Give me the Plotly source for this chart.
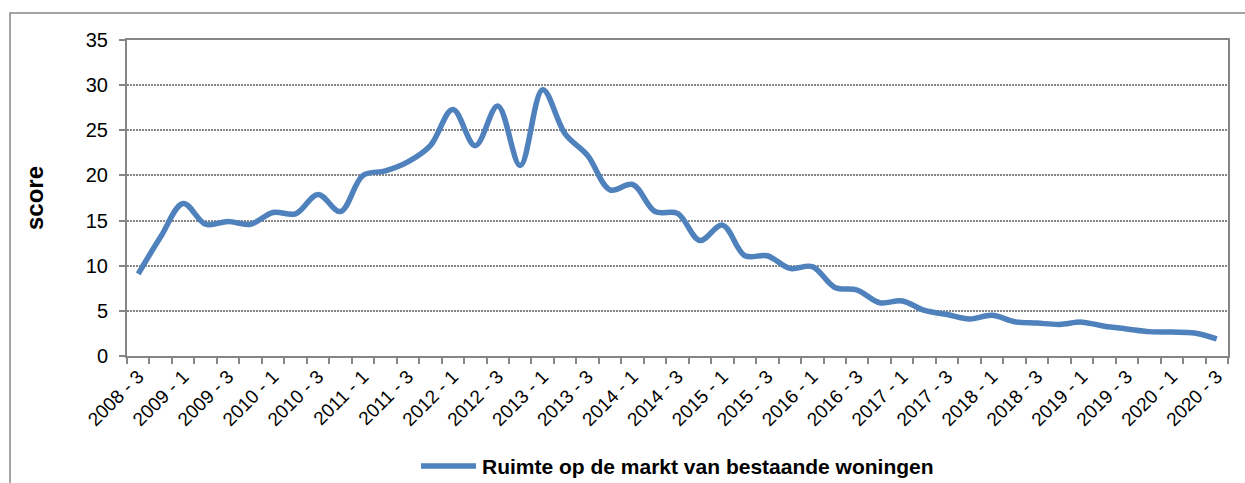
import plotly.graph_objects as go

quarters = [
    "2008 - 3", "2008 - 4",
    "2009 - 1", "2009 - 2", "2009 - 3", "2009 - 4",
    "2010 - 1", "2010 - 2", "2010 - 3", "2010 - 4",
    "2011 - 1", "2011 - 2", "2011 - 3", "2011 - 4",
    "2012 - 1", "2012 - 2", "2012 - 3", "2012 - 4",
    "2013 - 1", "2013 - 2", "2013 - 3", "2013 - 4",
    "2014 - 1", "2014 - 2", "2014 - 3", "2014 - 4",
    "2015 - 1", "2015 - 2", "2015 - 3", "2015 - 4",
    "2016 - 1", "2016 - 2", "2016 - 3", "2016 - 4",
    "2017 - 1", "2017 - 2", "2017 - 3", "2017 - 4",
    "2018 - 1", "2018 - 2", "2018 - 3", "2018 - 4",
    "2019 - 1", "2019 - 2", "2019 - 3", "2019 - 4",
    "2020 - 1", "2020 - 2", "2020 - 3",
]

scores = [
    9.1, 13.2,
    16.9, 14.6, 14.9, 14.6,
    15.9, 15.75, 17.9, 16.0,
    20.0, 20.5, 21.5, 23.3,
    27.3, 23.3, 27.7, 21.1,
    29.5, 24.6, 22.2, 18.4,
    19.0, 16.0, 15.8, 12.8,
    14.5, 11.1, 11.1, 9.7,
    9.9, 7.6, 7.3, 5.9,
    6.1, 5.05, 4.6, 4.1,
    4.5, 3.8, 3.65, 3.5,
    3.75, 3.3, 3.0, 2.7,
    2.65, 2.55, 1.9,
]

series_name = "Ruimte op de markt van bestaande woningen"
y_ticks = [0, 5, 10, 15, 20, 25, 30, 35]

idx = list(range(len(quarters)))
label_idx = idx[::2]
label_text = [quarters[i] for i in label_idx]

W, H = 1245, 483
L, R, T, B = 127, 17, 40, 127
pw, ph = W - L - R, H - T - B


def px(x):
    return (x - L) / pw


def py(y):
    return (T + ph - y) / ph


font = "Liberation Sans, Arial, sans-serif"
grey = "#868686"
blue = "#4F81BD"

fig = go.Figure()
fig.add_trace(go.Scatter(
    x=idx, y=scores, mode="lines", name=series_name, showlegend=False,
    line=dict(color=blue, width=5.5, shape="spline", smoothing=1),
))

leg_y = 466
fig.update_layout(
    width=W, height=H,
    margin=dict(l=L, r=R, t=T, b=B, autoexpand=False),
    paper_bgcolor="white", plot_bgcolor="white",
    font=dict(family=font, color="black"),
    showlegend=False,
    shapes=[
        dict(type="rect", xref="paper", yref="paper",
             x0=px(10), x1=px(W + 40), y0=py(H + 40), y1=py(13),
             line=dict(color=grey, width=1.5), layer="below"),
        dict(type="line", xref="paper", yref="paper",
             x0=px(421), x1=px(476), y0=py(leg_y), y1=py(leg_y),
             line=dict(color=blue, width=5.5)),
    ],
    annotations=[
        dict(text=series_name, xref="paper", yref="paper",
             x=px(480), y=py(leg_y), xanchor="left", yanchor="middle",
             showarrow=False,
             font=dict(family=font, size=21, color="black", weight="bold")),
    ],
)

fig.update_xaxes(
    range=[-0.5, len(quarters) - 0.5], automargin=False,
    tickmode="array", tickvals=label_idx, ticktext=label_text,
    tickangle=-45, ticks="",
    tickfont=dict(family=font, size=19, color="black"),
    showgrid=False, zeroline=False,
    showline=True, linecolor=grey, linewidth=2, mirror=True,
    minor=dict(tickmode="linear", tick0=-0.5, dtick=1, ticks="outside",
               ticklen=6, tickcolor=grey, tickwidth=1.5, showgrid=False),
)

fig.update_yaxes(
    range=[0, 35], tickmode="array", tickvals=y_ticks, automargin=False,
    ticks="outside", ticklen=6, tickcolor=grey, tickwidth=1.5,
    tickfont=dict(family=font, size=20, color="black"),
    showgrid=True, gridcolor=grey, griddash="1.5px,1.5px", gridwidth=1.5,
    zeroline=False,
    showline=True, linecolor=grey, linewidth=2, mirror=True,
    ticklabelstandoff=7,
    title=dict(text="score", font=dict(family=font, size=24, color="black", weight="bold"),
               standoff=35),
)

fig.write_html("out.html",
               config={"displayModeBar": False},
               post_script="document.body.style.margin='0';document.body.style.overflow='hidden';")
